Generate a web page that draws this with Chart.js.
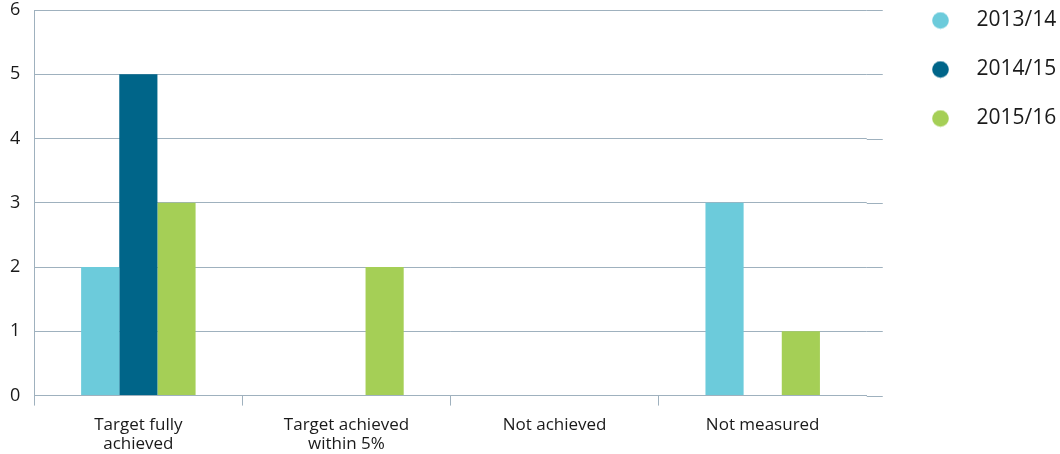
<!DOCTYPE html>
<html lang="en">
<head>
    <meta charset="UTF-8">
    <title>Targets</title>
    <script src="https://cdn.jsdelivr.net/npm/chart.js"></script>
    <style>
        html, body { margin: 0; padding: 0; background: #fff; }
        .chart-wrap { width: 1060px; height: 454px; }
    </style>
</head>
<body>
    <div class="chart-wrap"><canvas id="targetChart"></canvas></div>
    <script>
        // data
        const categories = [['Target fully', 'achieved'], ['Target achieved', 'within 5%'], 'Not achieved', 'Not measured'];
        const seriesNames = ['2013/14', '2014/15', '2015/16'];
        const values1314 = [2, 0, 0, 3];
        const values1415 = [5, 0, 0, 0];
        const values1516 = [3, 2, 0, 1];
        const yTicks = [0, 1, 2, 3, 4, 5, 6];

        const colors = ['#6ccbdb', '#006589', '#a5cf56'];
        const gridColor = '#9fb1be';

        // legend marker: a dot on the left of a wider box, so the text sits further right
        function dot(color) {
            const c = document.createElement('canvas');
            c.width = 34; c.height = 18;
            const g = c.getContext('2d');
            g.fillStyle = color;
            g.beginPath();
            g.arc(8.5, 9, 8.3, 0, Math.PI * 2);
            g.fill();
            return c;
        }

        // grid lines run a bit past the last category in the original
        const gridTail = {
            id: 'gridTail',
            afterDraw(chart) {
                const ctx = chart.ctx, area = chart.chartArea, y = chart.scales.y;
                ctx.save();
                ctx.strokeStyle = gridColor;
                ctx.lineWidth = 1;
                yTicks.forEach(v => {
                    const py = Math.round(y.getPixelForValue(v)) + 0.5;
                    ctx.beginPath();
                    ctx.moveTo(area.right, py);
                    ctx.lineTo(area.right + 16, py);
                    ctx.stroke();
                });
                ctx.restore();
            }
        };

        // legend sits higher and a bit further right than where the layout puts it
        const legendNudge = {
            id: 'legendNudge',
            afterLayout(chart) {
                chart.legend.top -= 28;
                chart.legend.left = Math.round(chart.legend.left + 4);
            }
        };

        const ctx = document.getElementById('targetChart').getContext('2d');
        new Chart(ctx, {
            type: 'bar',
            data: {
                labels: categories,
                datasets: [
                    { label: seriesNames[0], data: values1314, backgroundColor: colors[0], pointStyle: dot(colors[0]) },
                    { label: seriesNames[1], data: values1415, backgroundColor: colors[1], pointStyle: dot(colors[1]) },
                    { label: seriesNames[2], data: values1516, backgroundColor: colors[2], pointStyle: dot(colors[2]) }
                ]
            },
            options: {
                responsive: true,
                maintainAspectRatio: false,
                animation: false,
                layout: { padding: { left: -4, top: 10, right: -2, bottom: -10 } },
                datasets: { bar: { categoryPercentage: 0.55, barPercentage: 1.0 } },
                plugins: {
                    tooltip: { enabled: false },
                    legend: {
                        position: 'right',
                        align: 'start',
                        labels: {
                            usePointStyle: true,
                            pointStyleWidth: 34,
                            boxHeight: 18,
                            padding: 28,
                            color: '#1a1a1a',
                            font: { family: 'Open Sans', size: 21 }
                        }
                    }
                },
                scales: {
                    x: {
                        grid: {
                            offset: true,
                            drawOnChartArea: false,
                            tickLength: 10,
                            // no tick at the far right end
                            color: c => c.tick ? gridColor : 'rgba(0,0,0,0)'
                        },
                        border: { color: gridColor },
                        ticks: { color: '#1a1a1a', padding: 10, font: { family: 'Open Sans', size: 17, lineHeight: 1.13 }, maxRotation: 0 },
                        afterFit: axis => { axis.paddingTop = 0; axis.paddingBottom = 0; }
                    },
                    y: {
                        min: 0,
                        max: 6,
                        afterBuildTicks: axis => { axis.ticks = yTicks.map(v => ({ value: v })); },
                        grid: { drawTicks: false, color: gridColor },
                        border: { color: gridColor },
                        ticks: { color: '#1a1a1a', padding: 14, font: { family: 'Open Sans', size: 18 } },
                        afterFit: axis => { axis.paddingTop = 0; axis.paddingBottom = 0; }
                    },
                    // empty strip between the plot and the legend
                    gap: {
                        type: 'linear',
                        position: 'right',
                        grid: { display: false },
                        border: { display: false },
                        ticks: { display: false },
                        afterFit: axis => { axis.width = 33; }
                    }
                }
            },
            plugins: [gridTail, legendNudge]
        });
    </script>
</body>
</html>
